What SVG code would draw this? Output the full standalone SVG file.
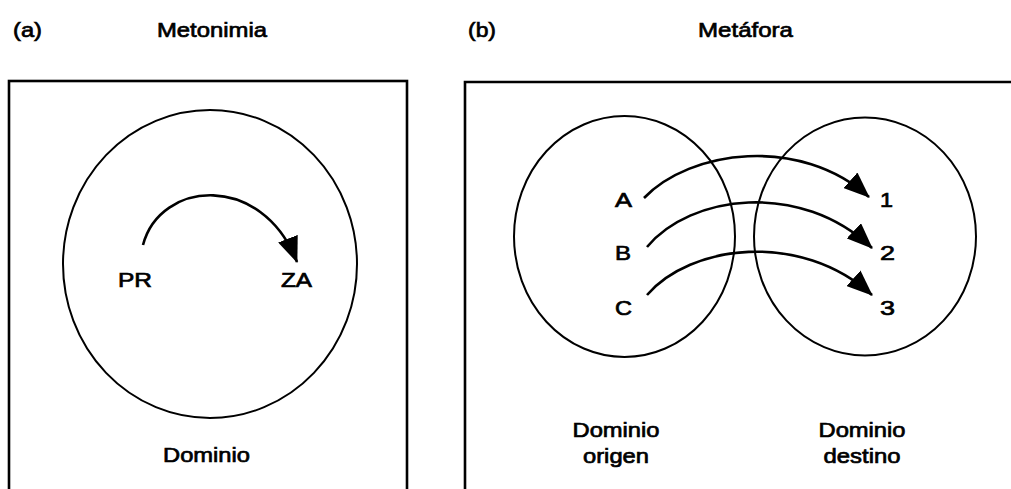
<svg xmlns="http://www.w3.org/2000/svg" width="1011" height="489" viewBox="0 0 1011 489">
<style>
text{font-family:"Liberation Sans",Arial,sans-serif;font-size:21px;fill:#000;stroke:#000;stroke-width:0.7}
.frame{fill:none;stroke:#000;stroke-width:2.6}
.dom{fill:none;stroke:#000;stroke-width:2}
.arc{fill:none;stroke:#000;stroke-width:2.6}
</style>
<defs>
<marker id="ah" markerUnits="userSpaceOnUse" markerWidth="26" markerHeight="21" refX="25" refY="10.5" orient="auto">
<path d="M0,0 L26,10.5 L0,21 Z" fill="#000"/>
</marker>
</defs>
<rect width="1011" height="489" fill="#fff"/>
<g id="titles">
<text x="13" y="37" textLength="29" lengthAdjust="spacingAndGlyphs">(a)</text>
<text x="157" y="37" textLength="110" lengthAdjust="spacingAndGlyphs">Metonimia</text>
<text x="468" y="37" textLength="28" lengthAdjust="spacingAndGlyphs">(b)</text>
<text x="698" y="37" textLength="95" lengthAdjust="spacingAndGlyphs">Metáfora</text>
</g>
<g id="frames">
<rect class="frame" x="9" y="81" width="398" height="420"/>
<path class="frame" d="M465,500 V82 H1015"/>
</g>
<g id="dominio-a">
<ellipse class="dom" cx="210" cy="264" rx="147" ry="154"/>
<text x="206.5" y="462" text-anchor="middle" textLength="87" lengthAdjust="spacingAndGlyphs">Dominio</text>
</g>
<g id="node-PR"><text x="118" y="287" textLength="34" lengthAdjust="spacingAndGlyphs">PR</text></g>
<g id="node-ZA"><text x="281" y="287" textLength="31" lengthAdjust="spacingAndGlyphs">ZA</text></g>
<g id="dominio-origen">
<ellipse class="dom" cx="624.5" cy="236.5" rx="110.5" ry="120.5"/>
<text x="616" y="437" text-anchor="middle" textLength="87" lengthAdjust="spacingAndGlyphs">Dominio</text>
<text x="616" y="463" text-anchor="middle" textLength="66" lengthAdjust="spacingAndGlyphs">origen</text>
</g>
<g id="dominio-destino">
<ellipse class="dom" cx="865" cy="236.5" rx="111" ry="119"/>
<text x="862" y="437" text-anchor="middle" textLength="87" lengthAdjust="spacingAndGlyphs">Dominio</text>
<text x="862" y="463" text-anchor="middle" textLength="77" lengthAdjust="spacingAndGlyphs">destino</text>
</g>
<g id="node-A"><text x="615" y="207" textLength="17" lengthAdjust="spacingAndGlyphs">A</text></g>
<g id="node-B"><text x="615" y="260" textLength="16" lengthAdjust="spacingAndGlyphs">B</text></g>
<g id="node-C"><text x="615" y="315" textLength="17" lengthAdjust="spacingAndGlyphs">C</text></g>
<g id="node-1"><text x="880" y="207" textLength="13" lengthAdjust="spacingAndGlyphs">1</text></g>
<g id="node-2"><text x="880" y="260" textLength="15" lengthAdjust="spacingAndGlyphs">2</text></g>
<g id="node-3"><text x="880" y="315" textLength="15" lengthAdjust="spacingAndGlyphs">3</text></g>
<g id="connectors">
<path class="arc" d="M143,245 C160,180 262,172 297,262" marker-end="url(#ah)"/>
<path class="arc" d="M644,198 C690,150 800,135 869,197" marker-end="url(#ah)"/>
<path class="arc" d="M647,247 C690,195 800,180 872,248" marker-end="url(#ah)"/>
<path class="arc" d="M647,295 C690,245 800,230 872,295" marker-end="url(#ah)"/>
</g>
</svg>
